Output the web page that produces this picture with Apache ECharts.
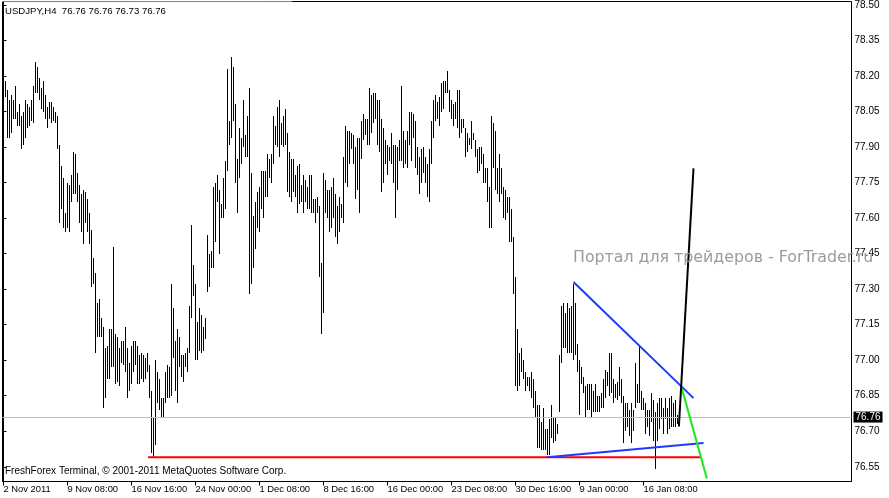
<!DOCTYPE html>
<html>
<head>
<meta charset="utf-8">
<script src="https://cdn.jsdelivr.net/npm/echarts@6/dist/echarts.min.js"></script>
<style>html,body{margin:0;padding:0;background:#fff;}#chart{width:889px;height:498px;}</style>
</head>
<body>
<div id="chart"></div>
<script>
// Bar highs (USDJPY H4), one per bar
const highs = [
78.40,78.18,78.14,78.10,78.12,78.10,78.16,78.05,78.08,78.03,78.05,78.10,78.08,78.07,78.10,78.16,78.26,78.24,78.19,78.15,
78.18,78.12,78.07,78.09,78.09,78.07,78.05,78.03,77.91,77.82,77.77,77.62,77.75,77.74,77.78,77.88,77.87,77.79,77.74,77.70,
77.72,77.71,77.68,77.62,77.55,77.43,77.37,77.24,77.26,77.18,77.14,77.05,77.06,77.13,77.13,77.48,77.11,77.10,77.05,77.08,
77.08,77.14,77.05,76.99,77.06,77.08,77.08,77.06,77.02,77.03,77.02,77.01,77.03,76.98,76.87,76.76,77.00,76.95,76.92,76.84,
76.84,76.95,76.98,76.97,77.32,77.22,77.08,77.13,77.10,77.02,77.02,77.03,77.05,77.23,77.57,77.40,77.32,77.16,77.22,77.19,
77.14,77.18,77.53,77.45,77.46,77.73,77.75,77.78,77.72,77.66,77.77,77.84,78.23,78.01,78.28,78.24,78.08,77.85,77.98,77.94,
78.10,77.95,78.03,78.15,77.79,77.61,77.67,77.71,77.73,77.80,77.80,77.80,77.87,77.85,77.87,78.03,77.99,78.07,78.10,78.00,
78.03,78.06,77.96,77.88,77.85,77.85,77.78,77.82,77.83,77.74,77.78,77.76,77.73,77.78,77.78,77.68,77.68,77.69,77.65,77.41,
77.79,77.76,77.72,77.72,77.73,77.77,77.70,77.65,77.69,77.66,77.86,77.99,77.97,77.97,77.96,77.95,77.90,77.94,77.94,78.01,
78.04,78.02,78.02,78.15,78.12,78.13,78.13,78.10,78.10,78.02,77.98,77.93,77.91,77.90,77.96,77.91,77.91,77.90,77.93,78.16,
77.97,77.93,77.97,78.05,78.05,78.04,78.01,77.90,77.86,77.89,77.90,77.86,77.83,77.89,78.01,78.10,78.12,78.09,78.11,78.17,
78.18,78.18,78.22,78.14,78.10,78.08,78.09,78.14,78.14,78.02,78.02,77.98,77.96,77.94,78.01,77.96,77.93,77.89,77.90,77.90,
77.87,77.81,77.81,77.73,78.03,78.00,77.97,77.81,77.87,77.81,77.73,77.72,77.69,77.69,77.64,77.52,77.35,77.13,77.03,77.05,
77.00,76.95,76.93,76.93,76.95,76.92,76.87,76.81,76.81,76.74,76.80,76.71,76.71,76.75,76.81,76.76,76.76,76.73,77.02,77.23,
77.24,77.20,77.24,77.22,77.23,77.32,77.24,77.07,77.00,76.97,76.93,76.89,76.90,76.90,76.90,76.87,76.90,76.85,76.85,76.86,
76.92,76.96,76.95,77.03,77.03,76.92,76.90,76.91,76.97,76.92,76.85,76.82,76.82,76.79,76.82,76.79,76.99,76.90,77.06,76.87,
76.84,76.82,76.79,76.79,76.86,76.83,76.78,76.82,76.84,76.84,76.80,76.84,76.80,76.84,76.85,76.82,76.83,76.77,76.76
];
// Bar lows
const lows = [
78.11,78.11,77.94,77.94,77.96,78.02,78.02,77.99,77.99,77.89,77.91,77.94,77.98,77.99,78.01,78.00,78.13,78.13,78.10,78.06,
78.05,78.02,77.98,78.02,78.00,78.01,78.00,77.89,77.58,77.64,77.56,77.54,77.56,77.54,77.67,77.70,77.70,77.67,77.58,77.54,
77.49,77.58,77.54,77.49,77.31,77.32,77.03,77.10,77.10,77.10,76.80,76.84,76.92,76.92,76.97,76.97,76.90,76.91,76.89,76.99,
76.98,76.95,76.84,76.87,76.90,76.95,76.98,76.90,76.90,76.92,76.91,76.92,76.95,76.84,76.61,76.59,76.64,76.82,76.79,76.76,
76.76,76.82,76.84,76.84,76.85,77.01,76.87,76.82,76.97,76.93,76.91,76.97,76.95,77.03,77.18,77.27,77.00,77.00,77.04,77.03,
77.04,77.09,77.29,77.31,77.39,77.39,77.50,77.67,77.45,77.60,77.60,77.64,77.80,77.91,77.94,78.01,77.75,77.62,77.77,77.83,
77.90,77.86,77.86,77.28,77.32,77.39,77.47,77.56,77.54,77.64,77.60,77.69,77.69,77.77,77.75,77.83,77.91,77.90,77.86,77.91,
77.90,77.91,77.71,77.69,77.67,77.71,77.69,77.62,77.66,77.67,77.62,77.67,77.64,77.64,77.62,77.62,77.58,77.62,77.35,77.11,
77.20,77.62,77.60,77.54,77.56,77.60,77.52,77.49,77.54,77.60,77.58,77.75,77.73,77.83,77.89,77.83,77.68,77.72,77.62,77.85,
77.93,77.95,77.91,77.91,77.96,78.00,78.02,77.91,77.88,77.71,77.75,77.83,77.78,77.84,77.83,77.75,77.60,77.72,77.84,77.84,
77.81,77.83,77.81,77.91,77.84,77.94,77.81,77.78,77.70,77.75,77.79,77.75,77.69,77.67,77.83,77.94,78.01,78.02,77.99,78.05,
78.06,78.13,78.13,78.05,78.02,77.99,78.02,77.98,77.94,77.96,77.98,77.86,77.88,77.91,77.89,77.93,77.86,77.79,77.80,77.83,
77.75,77.75,77.67,77.56,77.56,77.81,77.72,77.70,77.67,77.70,77.60,77.59,77.62,77.50,77.50,77.28,76.89,76.87,76.89,76.95,
76.92,76.87,76.89,76.87,76.84,76.80,76.76,76.63,76.63,76.62,76.62,76.62,76.60,76.60,76.67,76.65,76.66,76.69,76.78,76.99,
77.05,77.05,77.03,77.03,77.03,77.00,77.02,76.95,76.77,76.90,76.86,76.76,76.79,76.79,76.76,76.78,76.78,76.78,76.78,76.80,
76.80,76.84,76.89,76.85,76.86,76.82,76.84,76.83,76.85,76.82,76.65,76.70,76.72,76.68,76.65,76.70,76.80,76.82,76.82,76.79,
76.79,76.69,76.72,76.68,76.74,76.66,76.54,76.66,76.71,76.75,76.69,76.75,76.69,76.71,76.72,76.72,76.72,76.73,76.73
];
// Time axis labels and their bar indices
const timeLabels = ['2 Nov 2011','9 Nov 08:00','16 Nov 16:00','24 Nov 00:00','1 Dec 08:00','8 Dec 16:00','16 Dec 00:00','23 Dec 08:00','30 Dec 16:00','9 Jan 00:00','16 Jan 08:00'];
const timeTickBars = [0,32,64,96,128,160,192,224,256,288,320];
// Price axis labels
const priceTicks = [76.55,76.70,76.85,77.00,77.15,77.30,77.45,77.60,77.75,77.90,78.05,78.20,78.35,78.50];
const lastPrice = 76.76;
// Drawn trend lines: [barIndex, price]
const redLine   = [[72.3, 76.59],[348.3, 76.59]];
const blueUpper = [[285, 77.33],[345, 76.84]];
const blueLower = [[271.7, 76.59],[350, 76.65]];
const blackLine = [[337.7, 76.72],[345, 77.81]];
const greenLine = [[339.2, 76.88],[351.7, 76.50]];

const chart = echarts.init(document.getElementById('chart'), null, {renderer:'canvas'});
const ohlc = highs.map((h,i)=>[i,h,lows[i]]);
const font = 'Liberation Sans';
function tl(data,color){
  return {type:'line', data:data, symbol:'none', silent:true, animation:false, clip:true,
    lineStyle:{color:color,width:2}, z:5};
}
chart.setOption({
  animation:false,
  backgroundColor:'#fff',
  title:[
    {text:'USDJPY,H4  76.76 76.76 76.73 76.76', left:5, top:6, padding:0,
      textStyle:{fontFamily:font,fontSize:9.6,fontWeight:'normal',color:'#000'}},
    {text:'FreshForex Terminal, © 2001-2011 MetaQuotes Software Corp.', left:5, top:466, padding:0,
      textStyle:{fontFamily:font,fontSize:10,fontWeight:'normal',color:'#000'}},
    {text:'Портал для трейдеров - ForTrader.ru', left:573, top:250, padding:0,
      textStyle:{fontFamily:'DejaVu Sans',fontSize:15.8,fontWeight:'normal',color:'#a49797'}}
  ],
  graphic:[{type:'rect',left:0,top:0,shape:{width:292,height:1.5},style:{fill:'#fff'},z:100,silent:true}],
  grid:{left:2.5,right:37.5,top:0.5,bottom:16.5,show:true,borderColor:'#000',borderWidth:1,backgroundColor:'#fff'},
  xAxis:{type:'value',min:-0.5,max:424,
    axisLine:{show:true,lineStyle:{color:'#000',width:1}},
    splitLine:{show:false},
    axisTick:{show:true,customValues:timeTickBars,length:4,lineStyle:{color:'#000'}},
    axisLabel:{customValues:timeTickBars,align:'left',margin:3,color:'#000',fontFamily:font,fontSize:9.4,
      formatter:function(v){const k=timeTickBars.indexOf(Math.round(v));return k>=0?timeLabels[k]:'';}}
  },
  yAxis:{type:'value',position:'right',min:76.4878,max:78.5147,
    axisLine:{show:true,lineStyle:{color:'#000',width:1}},
    splitLine:{show:false},
    axisTick:{show:true,inside:false,customValues:priceTicks,length:3,lineStyle:{color:'#000'}},
    axisLabel:{customValues:priceTicks,margin:3,color:'#000',fontFamily:font,fontSize:10,
      formatter:function(v){return v.toFixed(2);}}
  },
  series:[
    {type:'custom', data:ohlc, encode:{x:0,y:[1,2]}, silent:true, clip:true, z:3,
      renderItem:function(params,api){
        const i=api.value(0);
        const a=api.coord([i,api.value(1)]);
        const b=api.coord([i,api.value(2)]);
        return {type:'rect',shape:{x:Math.floor(a[0]),y:Math.round(a[1]),width:1,height:Math.max(1,Math.round(b[1])-Math.round(a[1]))},
          style:{fill:'#000'}};
      },
      markLine:{silent:true,symbol:['none','none'],animation:false,
        lineStyle:{color:'#c0c0c0',width:1,type:'solid'},
        label:{show:true,position:'end',distance:2,formatter:function(){return lastPrice.toFixed(2);},
          backgroundColor:'#000',color:'#fff',fontFamily:font,fontSize:10,padding:[1,2,0,2]},
        data:[{yAxis:lastPrice}]}
    },
    tl(redLine,'#ff0000'),
    tl(blueLower,'#1a3cff'),
    tl(blueUpper,'#1a3cff'),
    tl(greenLine,'#1ee81e'),
    tl(blackLine,'#000000')
  ]
});
</script>
</body>
</html>
